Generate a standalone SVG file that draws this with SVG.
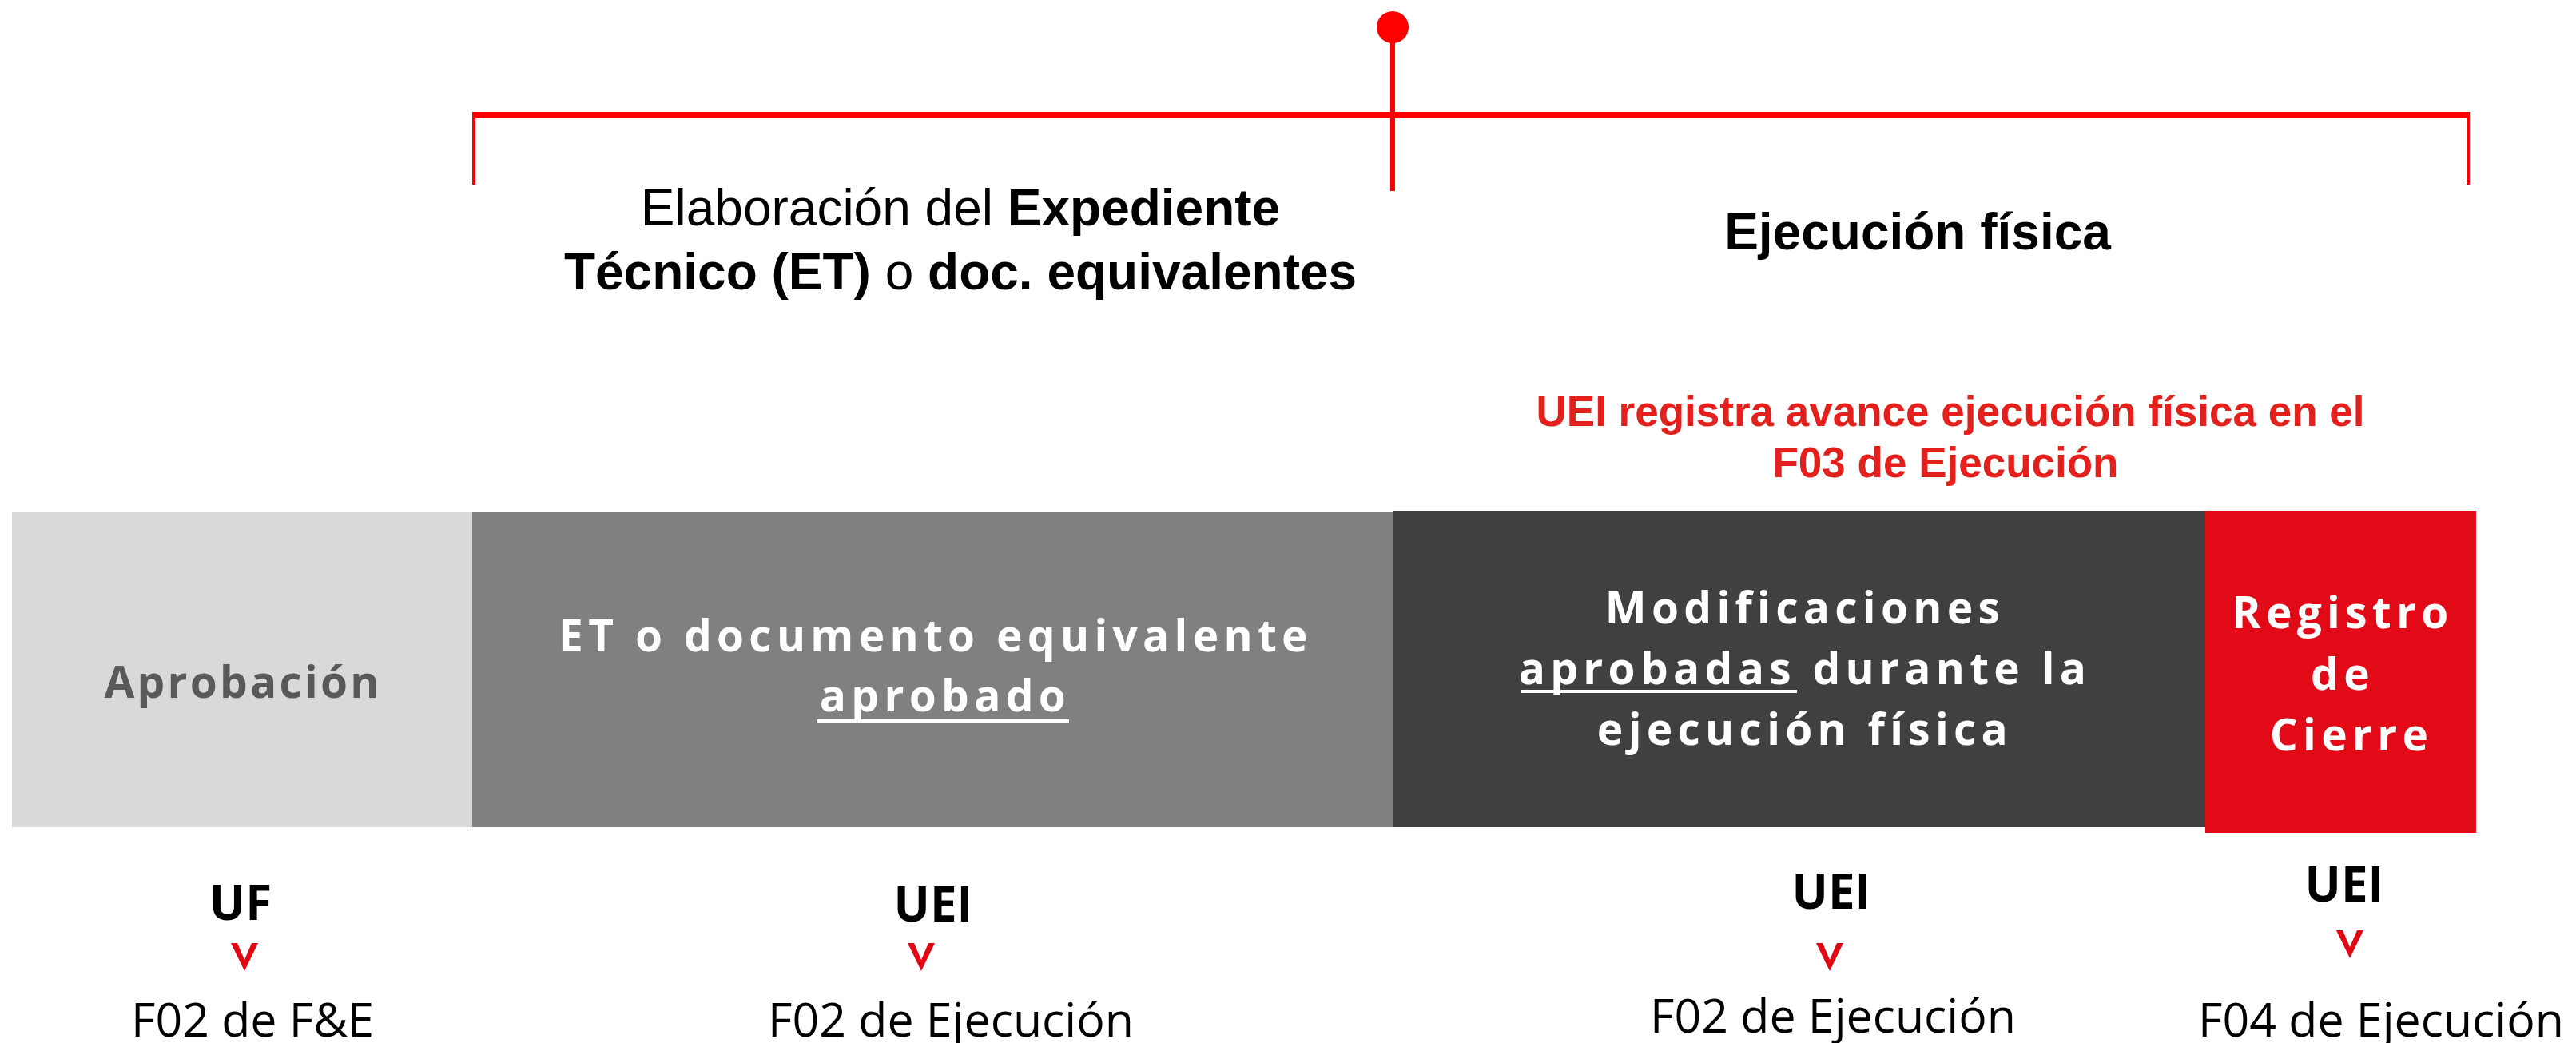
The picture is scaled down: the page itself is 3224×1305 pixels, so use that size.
<svg xmlns="http://www.w3.org/2000/svg" width="3224" height="1305" viewBox="0 0 3224 1305">
<style>
.hdr{font-family:"Liberation Sans",Arial,sans-serif;font-size:64px;fill:#000;text-anchor:middle}
.b{font-weight:bold}
.red{font-family:"Liberation Sans",Arial,sans-serif;font-size:53px;font-weight:bold;fill:#E3201B;text-anchor:middle}
.box{font-family:"Open Sans","Noto Sans",sans-serif;font-size:55px;font-weight:bold;fill:#fff;text-anchor:middle;letter-spacing:6.3px}
.who{font-family:"Open Sans","Noto Sans",sans-serif;font-size:60px;font-weight:bold;fill:#000;text-anchor:middle}
.doc{font-family:"Open Sans","Noto Sans",sans-serif;font-size:59px;fill:#000;text-anchor:middle}
.br{stroke:#FF0000;fill:none}
</style>
<defs>
<path id="chev" d="M-17,-35 L-9,-35 L0,-14 L9,-35 L17,-35 L0,0 Z" fill="#E30613"/>
</defs>
<g id="connectors">
<circle cx="1743" cy="34" r="20" fill="#FF0000"/>
<line class="br" x1="1743" y1="34" x2="1743" y2="239" stroke-width="6"/>
<line class="br" x1="592" y1="144" x2="3090" y2="144" stroke-width="8"/>
<line class="br" x1="593" y1="140" x2="593" y2="231" stroke-width="4"/>
<line class="br" x1="3089" y1="140" x2="3089" y2="231" stroke-width="4"/>
<use href="#chev" x="306" y="1215"/>
<use href="#chev" x="1153" y="1215"/>
<use href="#chev" x="2290" y="1215"/>
<use href="#chev" x="2941" y="1199"/>
</g>
<g id="phase-et">
<text class="hdr" x="1202" y="282"><tspan>Elaboración del </tspan><tspan class="b">Expediente</tspan></text>
<text class="hdr" x="1202" y="362"><tspan class="b">Técnico (ET)</tspan><tspan> o </tspan><tspan class="b">doc. equivalentes</tspan></text>
</g>
<g id="phase-ejec">
<text class="hdr b" x="2400" y="312">Ejecución física</text>
</g>
<g id="note-f03">
<text class="red" x="2441" y="533">UEI registra avance ejecución física en el</text>
<text class="red" x="2435" y="597">F03 de Ejecución</text>
</g>
<g id="box-aprobacion">
<rect x="15" y="640" width="577" height="395" fill="#D9D9D9"/>
<text class="box" x="304" y="873" style="fill:#595959;letter-spacing:3.2px">Aprobación</text>
</g>
<g id="box-et">
<rect x="591" y="640" width="1154" height="395" fill="#808080"/>
<text class="box" x="1171" y="815">ET o documento equivalente</text>
<text class="box" x="1183" y="890">aprobado</text>
<rect x="1022" y="900" width="316" height="4" fill="#fff"/>
</g>
<g id="box-modif">
<rect x="1744" y="639" width="1017" height="396" fill="#404040"/>
<text class="box" x="2259" y="780">Modificaciones</text>
<text class="box" x="2259" y="856">aprobadas durante la</text>
<rect x="1904" y="863" width="345" height="4" fill="#fff"/>
<text class="box" x="2259" y="932">ejecución física</text>
</g>
<g id="box-cierre">
<rect x="2760" y="639" width="339" height="403" fill="#E20A17"/>
<text class="box" x="2932" y="786">Registro</text>
<text class="box" x="2932" y="863">de</text>
<text class="box" x="2943" y="939">Cierre</text>
</g>
<g id="label-uf">
<text class="who" x="301" y="1151">UF</text>
<text class="doc" x="316" y="1297">F02 de F&amp;E</text>
</g>
<g id="label-uei-1">
<text class="who" x="1168" y="1153">UEI</text>
<text class="doc" x="1190" y="1297">F02 de Ejecución</text>
</g>
<g id="label-uei-2">
<text class="who" x="2292" y="1137">UEI</text>
<text class="doc" x="2294" y="1292">F02 de Ejecución</text>
</g>
<g id="label-uei-3">
<text class="who" x="2934" y="1128">UEI</text>
<text class="doc" x="2980" y="1297">F04 de Ejecución</text>
</g>
</svg>
